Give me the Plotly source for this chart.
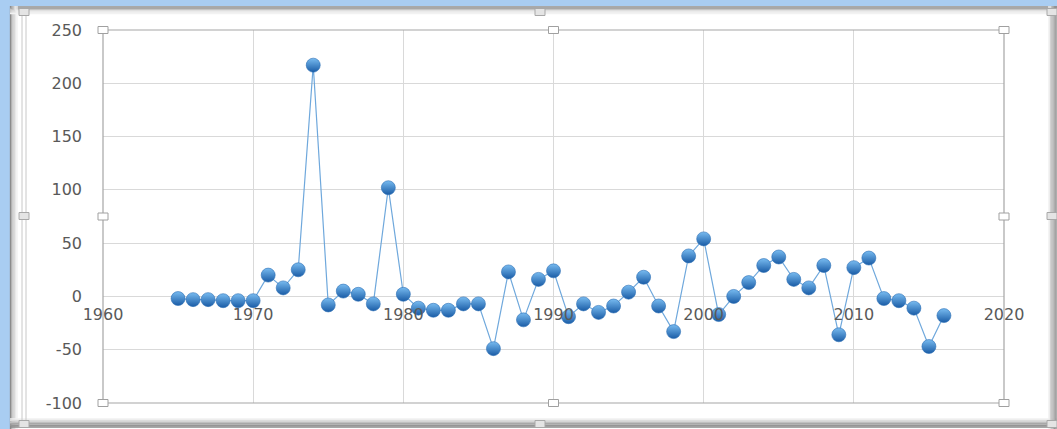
import plotly.graph_objects as go

# Yearly values, 1965-2016
years = list(range(1965, 2017))
values = [
    -2, -3, -3, -4, -4, -4,          # 1965-1970
    20, 8, 25, 217, -8, 5, 2, -7, 102,  # 1971-1979
    2, -11, -13, -13, -7, -7, -49, 23, -22, 16,  # 1980-1989
    24, -19, -7, -15, -9, 4, 18, -9, -33, 38,   # 1990-1999
    54, -17, 0, 13, 29, 37, 16, 8, 29, -36,     # 2000-2009
    27, 36, -2, -4, -11, -47, -18,              # 2010-2016
]

x_ticks = [1960, 1970, 1980, 1990, 2000, 2010, 2020]
y_ticks = [-100, -50, 0, 50, 100, 150, 200, 250]

W, H = 1057, 429
L, R, T, B = 103, 1004, 30, 403  # plot-area edges in pixels


def px(x, y):
    """Pixel position -> paper coordinates."""
    return (x - L) / (R - L), (B - y) / (B - T)


shapes = []


def rect(x0, y0, x1, y1, fill=None, line=None, lw=0, layer="above"):
    a, b = px(x0, y0)
    c, d = px(x1, y1)
    shapes.append(dict(type="rect", xref="paper", yref="paper",
                       x0=a, y0=d, x1=c, y1=b,
                       fillcolor=fill or "rgba(0,0,0,0)",
                       line=dict(color=line or "rgba(0,0,0,0)", width=lw),
                       layer=layer))


def hline(x0, x1, y, color, lw=1):
    a, b = px(x0, y)
    c, _ = px(x1, y)
    shapes.append(dict(type="line", xref="paper", yref="paper",
                       x0=a, x1=c, y0=b, y1=b,
                       line=dict(color=color, width=lw), layer="above"))


def vline(x, y0, y1, color, lw=1):
    a, b = px(x, y0)
    _, d = px(x, y1)
    shapes.append(dict(type="line", xref="paper", yref="paper",
                       x0=a, x1=a, y0=b, y1=d,
                       line=dict(color=color, width=lw), layer="above"))


# window frame: blue strip and soft grey shadow
rect(0, 0, W, 6, fill="#A9CDF2")
rect(0, 0, 10, H, fill="#A9CDF2")
for i, c in enumerate(["#8C8C8C", "#A8A8A8", "#C4C4C4", "#DADADA", "#E8E8E8", "#F2F2F2"]):
    hline(10, W, 7 + i * 1.3, c, 1.3)
    vline(10.5 + i * 1.3, 6, H, c, 1.3)
for i, c in enumerate(["#F0F0F0", "#DCDCDC", "#C0C0C0", "#A8A8A8", "#959595", "#8A8A8A"]):
    hline(10, W, 419 + i * 1.6, c, 1.6)
    vline(1049 + i * 1.4, 6, H, c, 1.4)

# chart-area outline (double grey line)
vline(22, 12, 424, "#C8C8C8", 1)
vline(26, 12, 424, "#C8C8C8", 1)
vline(1051, 12, 424, "#C8C8C8", 1)
vline(1054, 12, 424, "#C8C8C8", 1)

# plot-area border
rect(L, T, R, B, line="#A6A6A6", lw=1.2)

# selection handles on the plot area
for hx, hy in [(L, T), ((L + R) / 2, T), (R, T), (L, (T + B) / 2), (R, (T + B) / 2),
               (L, B), ((L + R) / 2, B), (R, B)]:
    rect(hx - 5, hy - 3.5, hx + 5, hy + 3.5, fill="white", line="#A0A0A0", lw=1)

# selection handles on the chart area
for hx, hy in [(24, 12), (540, 12), (1052, 12), (24, 216), (1052, 216),
               (24, 424), (540, 424), (1052, 424)]:
    rect(hx - 5, hy - 3.5, hx + 5, hy + 3.5, fill="#E4E4E4", line="#A8A8A8", lw=1)

fig = go.Figure()
fig.add_trace(go.Scatter(
    x=years, y=values, mode="lines+markers",
    line=dict(color="#6FA8DC", width=1.2),
    marker=dict(symbol="circle", size=14, color="#78BBF0",
                gradient=dict(type="vertical", color="#1A5CA6"),
                line=dict(width=0.6, color="#2B6FB5")),
    hoverinfo="x+y", showlegend=False,
))

fig.update_layout(
    width=W, height=H,
    margin=dict(l=L, r=W - R, t=T, b=H - B),
    paper_bgcolor="white", plot_bgcolor="white",
    font=dict(family="DejaVu Sans", size=16, color="#595959"),
    shapes=shapes,
    xaxis=dict(
        range=[1960, 2020], tickvals=x_ticks, ticktext=[str(v) for v in x_ticks],
        showgrid=True, gridcolor="#D9D9D9", gridwidth=1,
        zeroline=False, showline=False, ticks="",
        anchor="free", position=100 / 350, ticklabelstandoff=7,
        tickfont=dict(size=16, color="#595959"),
    ),
    yaxis=dict(
        range=[-100, 250], tickvals=y_ticks, ticktext=[str(v) for v in y_ticks],
        showgrid=True, gridcolor="#D9D9D9", gridwidth=1,
        zeroline=False, showline=False, ticks="",
        ticklabelstandoff=20, domain=[0, 1],
        tickfont=dict(size=16, color="#595959"),
    ),
)

fig.write_html("out.html")
